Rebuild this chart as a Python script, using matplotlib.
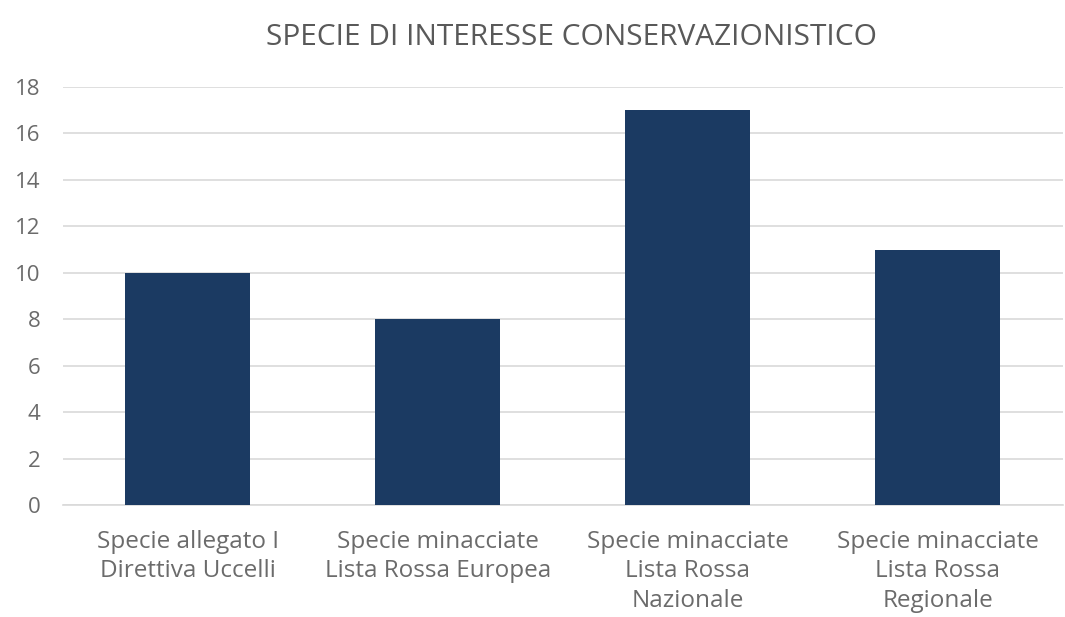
import matplotlib
matplotlib.use("Agg")
import matplotlib.pyplot as plt

categories = [
    "Specie allegato I\nDirettiva Uccelli",
    "Specie minacciate\nLista Rossa Europea",
    "Specie minacciate\nLista Rossa\nNazionale",
    "Specie minacciate\nLista Rossa\nRegionale",
]
values = [10, 8, 17, 11]
yticks = [0, 2, 4, 6, 8, 10, 12, 14, 16, 18]

plt.rcParams["font.family"] = ["Open Sans", "DejaVu Sans"]

fig = plt.figure(figsize=(10.65, 6.17), dpi=100)
ax = fig.add_axes([0.059, 0.1815, 0.939, 0.6775])

x = range(len(categories))
ax.bar(x, values, width=0.5, color="#1b3a62", zorder=3)

ax.set_xlim(-0.5, len(categories) - 0.5)
ax.set_ylim(0, 18)
ax.set_yticks(yticks)
ax.set_xticks(list(x))
ax.set_xticklabels(categories, fontsize=17.5, color="#6b6b6b", linespacing=1.3)
ax.tick_params(axis="y", labelsize=16, labelcolor="#6b6b6b", length=0, pad=16)
ax.tick_params(axis="x", length=0, pad=18)

ax.grid(axis="y", color="#d9d9d9", linewidth=1.2, zorder=0)
for side in ("top", "right", "left"):
    ax.spines[side].set_visible(False)
ax.spines["bottom"].set_color("#d9d9d9")
ax.spines["bottom"].set_linewidth(1.2)

fig.text(0.537, 0.94, "SPECIE DI INTERESSE CONSERVAZIONISTICO",
         ha="center", va="center", fontsize=21.5, color="#595959")

fig.savefig("out.png", dpi=100, facecolor="white")
